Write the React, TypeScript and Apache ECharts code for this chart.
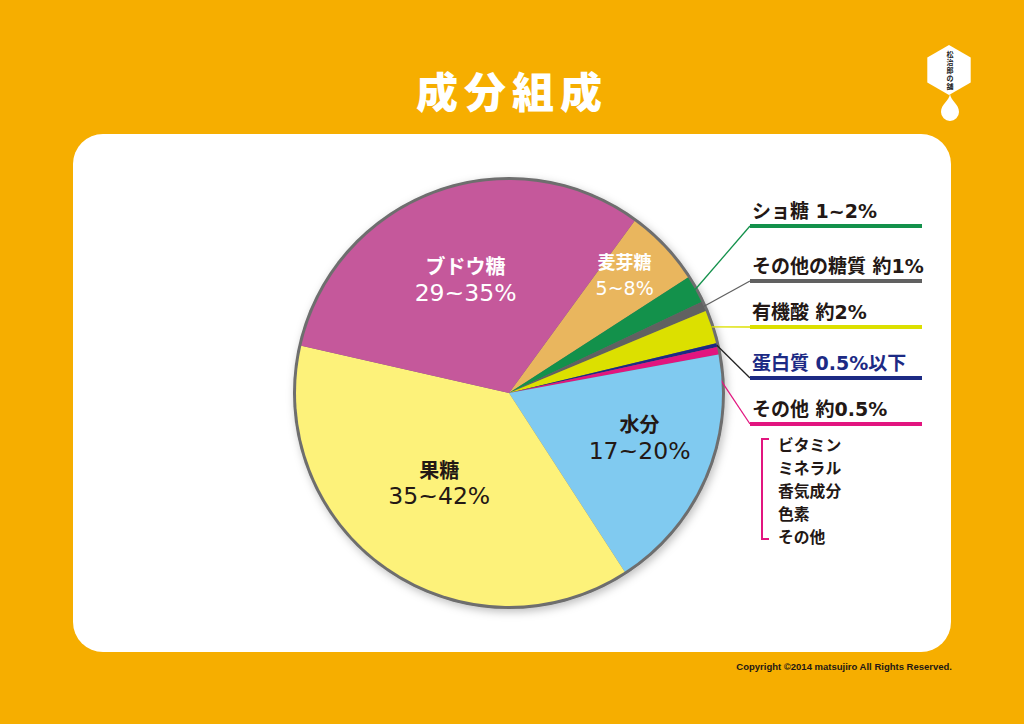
import React, { useEffect, useRef } from "react";
import * as echarts from "echarts";

// ---- data ----
const categories = ["麦芽糖", "ショ糖", "その他の糖質", "有機酸", "蛋白質", "その他", "水分", "果糖", "ブドウ糖"];
const values = [5.86, 2.08, 0.75, 2.53, 0.28, 0.58, 18.75, 37.69, 31.47];
const rangeLabels = ["5~8%", "1~2%", "約1%", "約2%", "0.5%以下", "約0.5%", "17~20%", "35~42%", "29~35%"];
const minorItems = ["ビタミン", "ミネラル", "香気成分", "色素", "その他"];
const titleChars = ["成", "分", "組", "成"];
const copyright = "Copyright ©2014 matsujiro All Rights Reserved.";
const logoText = ["松", "治", "郎", "の", "舗"];

// ---- styles / layout ----
const colors = ["#E9B65E", "#13914B", "#616161", "#DCE000", "#1C2A84", "#E2157F", "#80CAF0", "#FDF27A", "#C5589B"];
const lineColors = ["", "#13914B", "#616161", "#DCE000", "#222222", "#E2157F", "", "", ""];
const DARK = "#231815";
const ORANGE = "#F6AE00";
const FONT = "'DejaVu Sans', 'Noto Sans CJK JP', sans-serif";
const SMALL_FONT = "'Liberation Sans', 'Noto Sans CJK JP', sans-serif";
const CJK = "'Noto Sans CJK JP', sans-serif";
const CENTER = [509, 393];
const PIE_R = 213;
const RIM_R = 216;
const START_ANGLE = 53.9;
const bigIdx = [0, 6, 7, 8];
const bigColor: Record<number, string> = { 0: "#ffffff", 6: DARK, 7: DARK, 8: "#ffffff" };
const bigNumSize: Record<number, number> = { 0: 19, 6: 23.5, 7: 23.5, 8: 23.5 };
const bigNameSize: Record<number, number> = { 0: 18, 6: 20, 7: 20, 8: 20 };
const bigOffset: Record<number, [number, number]> = { 0: [36, -43], 6: [30, 1], 7: [-7, 0], 8: [-5, -11] };
const underlineY: Record<number, number> = { 1: 226, 2: 281, 3: 327, 4: 378, 5: 424 };
const LABEL_X = 750;
const UNDERLINE_W = 172;
const MINOR_X = 778;
const MINOR_Y0 = 444;
const MINOR_STEP = 23;

const dropPath = "M0 0 C1 7 9 10 9 18 A9 9 0 0 1 -9 18 C-9 10 -1 7 0 0 Z";

export default function App() {
  const ref = useRef<HTMLDivElement>(null);
  useEffect(() => {
    if (!ref.current) return;
    echarts.graphic.registerShape("logo", echarts.graphic.extendPath(dropPath, {}));
    const chart = echarts.init(ref.current, undefined, { renderer: "svg" });

    const data = categories.map((name, i) => {
      const big = bigIdx.includes(i);
      const textColor = i === 4 ? "#1C2A84" : DARK;
      return {
        name,
        value: values[i],
        itemStyle: { color: colors[i] },
        label: big
          ? {
              show: true,
              position: "inside",
              formatter: `{a|${name}}\n{b|${rangeLabels[i]}}`,
              rich: {
                a: { fontSize: bigNameSize[i], fontWeight: "bold", color: bigColor[i], lineHeight: 27, fontFamily: CJK },
                b: { fontSize: bigNumSize[i], fontWeight: "normal", color: bigColor[i], lineHeight: 27, fontFamily: FONT },
              },
            }
          : {
              show: true,
              position: "outside",
              alignTo: "none",
              formatter: `{t|${name} ${rangeLabels[i]}}\n{u| }`,
              rich: {
                t: { fontSize: 19, fontWeight: "bold", color: textColor, lineHeight: 26, padding: [0, 0, 0, 2], fontFamily: FONT },
                u: { width: UNDERLINE_W, height: 4, lineHeight: 4, fontSize: 1, backgroundColor: colors[i] },
              },
            },
        labelLine: big
          ? { show: false }
          : { show: true, length: 10, length2: 10, lineStyle: { color: lineColors[i], width: 1.3 } },
      };
    });

    const option: any = {
      animation: false,
      backgroundColor: ORANGE,
      textStyle: { fontFamily: FONT },
      graphic: [
        { type: "rect", z: 0, shape: { x: 73, y: 134, width: 878, height: 518, r: 30 }, style: { fill: "#ffffff" } },
        ...titleChars.map((c, i) => ({
          type: "text",
          z: 1,
          x: 437 + i * 48,
          y: 89,
          style: { text: c, fill: "#ffffff", font: `900 42px ${CJK}`, align: "center", verticalAlign: "middle" },
        })),
        {
          type: "polygon",
          z: 1,
          shape: { points: [[949, 45], [970.7, 57.5], [970.7, 82.5], [949, 95], [927.3, 82.5], [927.3, 57.5]] },
          style: { fill: "#ffffff" },
        },
        { type: "logo", z: 1, x: 950, y: 94, style: { fill: "#ffffff" } },
        {
          type: "text",
          z: 2,
          x: 950,
          y: 70,
          style: {
            text: logoText.join("\n"),
            fill: "#222",
            font: `bold 7px ${CJK}`,
            lineHeight: 8,
            align: "center",
            verticalAlign: "middle",
          },
        },
        {
          type: "text",
          z: 1,
          x: 952,
          y: 666,
          style: { text: copyright, fill: DARK, font: `bold 9.5px ${SMALL_FONT}`, align: "right", verticalAlign: "middle" },
        },
        {
          type: "polyline",
          z: 1,
          shape: { points: [[769, 439], [762, 439], [762, 539], [769, 539]] },
          style: { stroke: "#E2157F", lineWidth: 2, fill: "none" },
        },
        ...minorItems.map((t, i) => ({
          type: "text",
          z: 1,
          x: MINOR_X,
          y: MINOR_Y0 + i * MINOR_STEP,
          style: { text: t, fill: DARK, font: `bold 15.8px ${CJK}`, align: "left", verticalAlign: "middle" },
        })),
      ],
      series: [
        {
          type: "pie",
          z: 1,
          silent: true,
          center: CENTER,
          radius: RIM_R,
          label: { show: false },
          labelLine: { show: false },
          emphasis: { disabled: true },
          itemStyle: {
            color: "#6E6E6E",
            shadowBlur: 8,
            shadowColor: "rgba(0,0,0,0.25)",
            shadowOffsetX: 2,
            shadowOffsetY: 3,
          },
          data: [{ value: 1, name: "rim" }],
        },
        {
          type: "pie",
          z: 2,
          silent: true,
          center: CENTER,
          radius: PIE_R,
          startAngle: START_ANGLE,
          clockwise: true,
          avoidLabelOverlap: false,
          emphasis: { disabled: true },
          labelLayout: (params: any) => {
            const i = params.dataIndex;
            if (bigIdx.includes(i)) {
              const [dx, dy] = bigOffset[i];
              return { dx, dy };
            }
            const uy = underlineY[i];
            let p0 = params.labelLinePoints ? params.labelLinePoints[0] : [700, uy];
            if (i === 5) {
              p0 = [CENTER[0] + (p0[0] - CENTER[0]) * 0.93, CENTER[1] + (p0[1] - CENTER[1]) * 0.93];
            }
            return {
              x: LABEL_X,
              y: uy + 2,
              align: "left",
              verticalAlign: "bottom",
              labelLinePoints: [p0, [LABEL_X, uy], [LABEL_X, uy]],
            };
          },
          data,
        },
      ],
    };
    chart.setOption(option);
    return () => chart.dispose();
  }, []);
  return <div ref={ref} style={{ position: "absolute", left: 0, top: 0, width: 1024, height: 724 }} />;
}
